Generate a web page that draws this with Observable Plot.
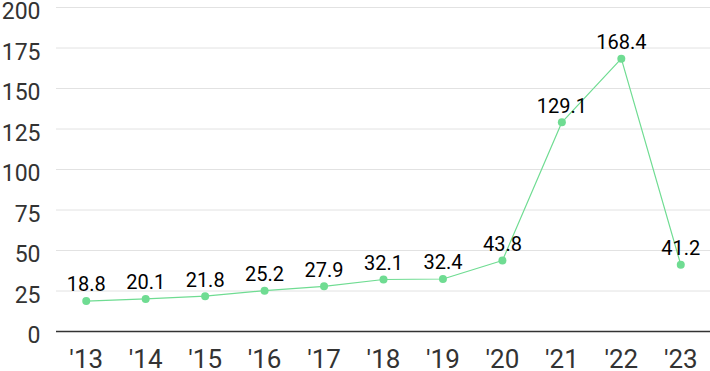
<!DOCTYPE html>
<html>
<head>
<meta charset="utf-8">
<script src="https://cdn.jsdelivr.net/npm/d3@7"></script>
<script src="https://cdn.jsdelivr.net/npm/@observablehq/plot@0.6"></script>
<style>
  body { margin: 0; background: #fff; }
  svg { font-family: Roboto, "Noto Sans CJK KR", sans-serif; }
</style>
</head>
<body>
<div id="chart"></div>
<script>
const years = ["'13","'14","'15","'16","'17","'18","'19","'20","'21","'22","'23"];
const values = [18.8, 20.1, 21.8, 25.2, 27.9, 32.1, 32.4, 43.8, 129.1, 168.4, 41.2];
const yTicks = [0, 25, 50, 75, 100, 125, 150, 175, 200];

const data = years.map((y, i) => ({year: y, value: values[i]}));
const green = "#6fdc92";

const chart = Plot.plot({
  width: 710,
  height: 371,
  marginLeft: 56,
  marginRight: 0,
  marginTop: 7,
  marginBottom: 40,
  style: {fontFamily: "Roboto, 'Noto Sans CJK KR', sans-serif", background: "#fff", overflow: "visible"},
  x: {type: "point", domain: years, padding: 0.5, round: false, label: null},
  y: {domain: [0, 200], label: null},
  marks: [
    Plot.gridY(yTicks, {stroke: "#e2e2e2", strokeOpacity: 1, strokeWidth: 1}),
    Plot.ruleY([0], {stroke: "#333", strokeWidth: 1.5}),
    Plot.axisY(yTicks, {tickSize: 0, tickPadding: 16, dy: 4.5, fontSize: 23, fill: "#333", label: null}),
    Plot.axisX(years, {tickSize: 0, tickPadding: 18, fontSize: 26, fill: "#333", label: null}),
    Plot.line(data, {x: "year", y: "value", stroke: green, strokeWidth: 1.2}),
    Plot.dot(data, {x: "year", y: "value", r: 4, fill: green, stroke: "none"}),
    Plot.text(data, {x: "year", y: "value", text: d => d.value.toFixed(1), dy: -16, fontSize: 20, fill: "#000"})
  ]
});
document.getElementById("chart").appendChild(chart);
</script>
</body>
</html>
